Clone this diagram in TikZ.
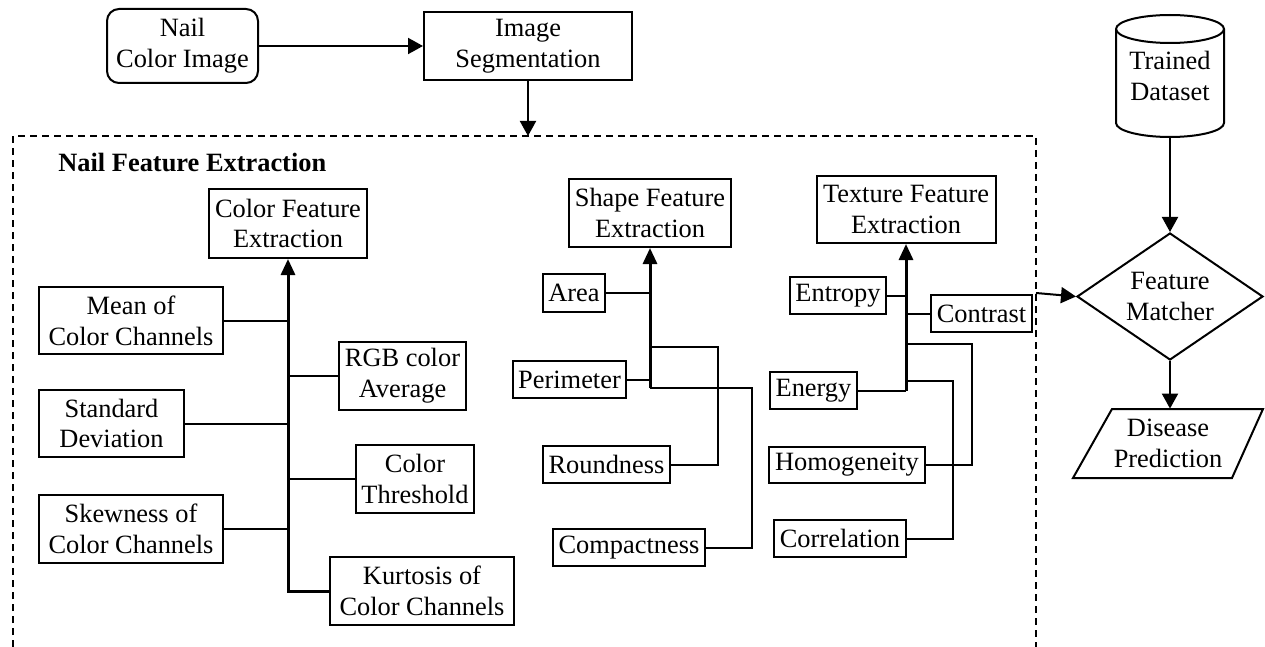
\documentclass[tikz,border=0pt]{standalone}
\usepackage{fontspec}
\setmainfont{Liberation Serif}
\usetikzlibrary{arrows.meta,shapes.geometric}
\begin{document}
\begin{tikzpicture}[x=0.5pt,y=-0.5pt,
  font=\fontsize{13.2}{15.35}\selectfont,
  box/.style={draw,line width=1pt,align=center,inner sep=0pt},
  conn/.style={line width=1pt},
  trunk/.style={line width=1.5pt,-{Triangle[length=8pt,width=7pt]}},
  flow/.style={line width=1pt,-{Triangle[length=7.5pt,width=8pt]}},
  frame/.style={line width=0.75pt,dash pattern=on 3.5pt off 2.5pt}]
\useasboundingbox (0,0) rectangle (1265,647);

% top flow
\node[box,rounded corners=6pt,minimum width=75.5pt,minimum height=37pt] (nci) at (182.5,46) {Nail\\Color Image};
\node[box,minimum width=104pt,minimum height=34pt] (seg) at (528,46) {Image\\Segmentation};
\draw[flow] (nci.east) -- (nci.east -| seg.west);

% frame
\coordinate (fbtop) at (528,136);
\coordinate (fbout) at (1036,293);
\draw[frame] (13,647) -- (13,136) -- (1036,136) -- (1036,647);
\draw[flow] (seg.south) -- (fbtop);
\node[anchor=base west,inner sep=0pt,font=\fontsize{13.2}{15.35}\selectfont\bfseries] (title) at (58,171) {Nail Feature Extraction};

% colour features
\node[box,minimum width=79pt,minimum height=34.5pt] (cfe) at (288,223.5) {Color Feature\\Extraction};
\node[box,minimum width=92pt,minimum height=33.5pt] (mean) at (131,320.5) {Mean of\\Color Channels};
\node[box,minimum width=63.5pt,minimum height=34pt] (rgb) at (402.5,376) {RGB color\\Average};
\node[box,minimum width=72.5pt,minimum height=33.5pt] (std) at (111.5,423.5) {Standard\\Deviation};
\node[box,minimum width=59pt,minimum height=34pt] (thr) at (415,479) {Color\\Threshold};
\node[box,minimum width=92pt,minimum height=34pt] (skew) at (131,529) {Skewness of\\Color Channels};
\node[box,minimum width=92pt,minimum height=34pt] (kurt) at (422,591) {Kurtosis of\\Color Channels};
\draw[trunk] (kurt.west) -| (cfe.south);
\draw[conn] (mean.east) -- (mean.east -| cfe.south);
\draw[conn] (rgb.west) -- (rgb.west -| cfe.south);
\draw[conn] (std.east) -- (std.east -| cfe.south);
\draw[conn] (thr.west) -- (thr.west -| cfe.south);
\draw[conn] (skew.east) -- (skew.east -| cfe.south);

% shape features
\node[box,minimum width=81pt,minimum height=34pt] (sfe) at (650,213) {Shape Feature\\Extraction};
\node[box,minimum width=31pt,minimum height=19pt] (area) at (574,293) {Area};
\node[box,minimum width=56.5pt,minimum height=18.5pt] (peri) at (569.5,379.5) {Perimeter};
\node[box,minimum width=63.5pt,minimum height=18.5pt] (round) at (606.5,464.5) {Roundness};
\node[box,minimum width=76pt,minimum height=18.5pt] (comp) at (629,547.5) {Compactness};
\coordinate (sb) at (650,388);
\coordinate (sj) at (752,388);
\coordinate (sr) at (718,347);
\draw[trunk] (sb) -- (sfe.south);
\draw[conn] (comp.east) -| (sj) -- (sb);
\draw[conn] (round.east) -| (sr) -- (sr -| sfe.south);
\draw[conn] (area.east) -- (area.east -| sfe.south);
\draw[conn] (peri.east) -- (peri.east -| sfe.south);

% texture features
\node[box,minimum width=89.5pt,minimum height=33.5pt] (tfe) at (906,209.5) {Texture Feature\\Extraction};
\node[box,minimum width=48pt,minimum height=18.5pt] (entropy) at (838,295.5) {Entropy};
\node[box,minimum width=50.5pt,minimum height=18.5pt] (contrast) at (981.5,313.5) {Contrast};
\node[box,minimum width=43.5pt,minimum height=18.5pt] (energy) at (813.5,390.5) {Energy};
\node[box,minimum width=78pt,minimum height=18pt] (homog) at (847,465) {Homogeneity};
\node[box,minimum width=66pt,minimum height=18.5pt] (corr) at (840,538.5) {Correlation};
\coordinate (th) at (972,344);
\coordinate (tc) at (953,381);
\draw[trunk] (energy.east -| tfe.south) -- (tfe.south);
\draw[conn] (energy.east) -- (energy.east -| tfe.south);
\draw[conn] (homog.east) -| (th) -- (th -| tfe.south);
\draw[conn] (corr.east) -| (tc) -- (tc -| tfe.south);
\draw[conn] (entropy.east) -- (entropy.east -| tfe.south);
\draw[conn] (contrast.west) -- (contrast.west -| tfe.south);

% right side
\node[align=center,inner sep=0pt,minimum width=54pt,minimum height=61pt] (td) at (1170,76) {Trained\\Dataset};
\draw[line width=1pt] (1116,29) arc(180:540:54 and 14);
\draw[line width=1pt] (1116,29) -- (1116,123) arc(180:0:54 and 14) -- (1224,29);
\node[draw,line width=1pt,shape=diamond,aspect=1.465,minimum width=93pt,minimum height=63.5pt,inner sep=0pt,align=center] (fm) at (1170,296.5) {Feature\\Matcher};
\node[align=center,inner sep=0pt,minimum width=60pt,minimum height=34.5pt] (dp) at (1168,443.5) {Disease\\Prediction};
\draw[line width=1pt] (1073,478) -- (1112,409) -- (1263,409) -- (1232,478) -- cycle;
\draw[flow] (td.south) -- (fm.north);
\draw[flow] (fbout) -- (fm.west);
\draw[flow] (fm.south) -- (fm.south |- dp.north);
\end{tikzpicture}
\end{document}
